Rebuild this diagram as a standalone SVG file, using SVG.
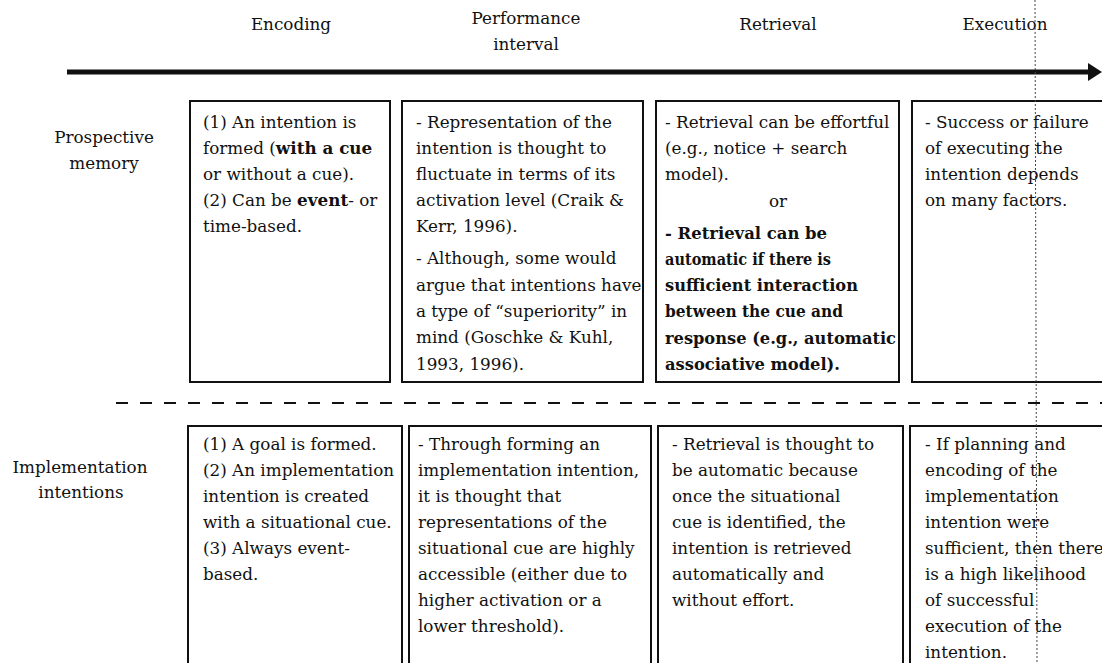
<svg xmlns="http://www.w3.org/2000/svg" width="1102" height="663" viewBox="0 0 1102 663">
<style>
.t{font-family:"DejaVu Serif","Liberation Serif",serif;font-size:16.8px;fill:#111}
.b{font-weight:bold}
.c{text-anchor:middle}
.box{fill:none;stroke:#111;stroke-width:2}
</style>
<defs>
<marker id="ah" markerUnits="userSpaceOnUse" markerWidth="15" markerHeight="18" refX="1" refY="9" orient="auto">
<polygon points="0,0 14,9 0,18" fill="#111"/>
</marker>
</defs>
<rect width="1102" height="663" fill="#fff"/>

<g id="headers" class="t c">
<text x="291" y="30">Encoding</text>
<text x="526" y="24">Performance</text>
<text x="526" y="50">interval</text>
<text x="778" y="30">Retrieval</text>
<text x="1005" y="30">Execution</text>
</g>

<g id="row-labels" class="t c">
<text x="104" y="143">Prospective</text>
<text x="104" y="169">memory</text>
<text x="80" y="473">Implementation</text>
<text x="81" y="498">intentions</text>
</g>

<g id="connectors">
<line x1="67" y1="72" x2="1089" y2="72" stroke="#111" stroke-width="5" marker-end="url(#ah)"/>
<line x1="116" y1="403" x2="1102" y2="403" stroke="#111" stroke-width="2" stroke-dasharray="12 12"/>
</g>

<g id="pm-encoding">
<rect class="box" x="190" y="101" width="200" height="281"/>
<text class="t" x="203" y="128">(1) An intention is</text>
<text class="t" x="203" y="154">formed (<tspan class="b">with a cue</tspan></text>
<text class="t" x="203" y="180">or without a cue).</text>
<text class="t" x="203" y="206">(2) Can be <tspan class="b">event</tspan>- or</text>
<text class="t" x="203" y="232">time-based.</text>
</g>

<g id="pm-interval">
<rect class="box" x="402" y="101" width="241" height="281"/>
<text class="t" x="416" y="128">- Representation of the</text>
<text class="t" x="416" y="154">intention is thought to</text>
<text class="t" x="416" y="180">fluctuate in terms of its</text>
<text class="t" x="416" y="206">activation level (Craik &amp;</text>
<text class="t" x="416" y="232">Kerr, 1996).</text>
<text class="t" x="416" y="264">- Although, some would</text>
<text class="t" x="416" y="291">argue that intentions have</text>
<text class="t" x="416" y="317">a type of “superiority” in</text>
<text class="t" x="416" y="343">mind (Goschke &amp; Kuhl,</text>
<text class="t" x="416" y="370">1993, 1996).</text>
</g>

<g id="pm-retrieval">
<rect class="box" x="656" y="101" width="243" height="281"/>
<text class="t" x="665" y="128">- Retrieval can be effortful</text>
<text class="t" x="665" y="154">(e.g., notice + search</text>
<text class="t" x="665" y="180">model).</text>
<text class="t c" x="778" y="207">or</text>
<text class="t b" x="665" y="238.5" textLength="162" lengthAdjust="spacingAndGlyphs">- Retrieval can be</text>
<text class="t b" x="665" y="264.8" textLength="166" lengthAdjust="spacingAndGlyphs">automatic if there is</text>
<text class="t b" x="665" y="291.1" textLength="193" lengthAdjust="spacingAndGlyphs">sufficient interaction</text>
<text class="t b" x="665" y="317.4" textLength="178" lengthAdjust="spacingAndGlyphs">between the cue and</text>
<text class="t b" x="665" y="343.7" textLength="231" lengthAdjust="spacingAndGlyphs">response (e.g., automatic</text>
<text class="t b" x="665" y="370" textLength="175" lengthAdjust="spacingAndGlyphs">associative model).</text>
</g>

<g id="pm-execution">
<rect class="box" x="912" y="101" width="200" height="281"/>
<text class="t" x="925" y="128">- Success or failure</text>
<text class="t" x="925" y="154">of executing the</text>
<text class="t" x="925" y="180">intention depends</text>
<text class="t" x="925" y="206">on many factors.</text>
</g>

<g id="ii-encoding">
<rect class="box" x="188" y="426" width="214" height="250"/>
<text class="t" x="203" y="450">(1) A goal is formed.</text>
<text class="t" x="203" y="476">(2) An implementation</text>
<text class="t" x="203" y="502">intention is created</text>
<text class="t" x="203" y="528">with a situational cue.</text>
<text class="t" x="203" y="554">(3) Always event-</text>
<text class="t" x="203" y="580">based.</text>
</g>

<g id="ii-interval">
<rect class="box" x="409" y="426" width="242" height="250"/>
<text class="t" x="418" y="450">- Through forming an</text>
<text class="t" x="418" y="476">implementation intention,</text>
<text class="t" x="418" y="502">it is thought that</text>
<text class="t" x="418" y="528">representations of the</text>
<text class="t" x="418" y="554">situational cue are highly</text>
<text class="t" x="418" y="580">accessible (either due to</text>
<text class="t" x="418" y="606">higher activation or a</text>
<text class="t" x="418" y="632">lower threshold).</text>
</g>

<g id="ii-retrieval">
<rect class="box" x="658" y="426" width="245" height="250"/>
<text class="t" x="672" y="450">- Retrieval is thought to</text>
<text class="t" x="672" y="476">be automatic because</text>
<text class="t" x="672" y="502">once the situational</text>
<text class="t" x="672" y="528">cue is identified, the</text>
<text class="t" x="672" y="554">intention is retrieved</text>
<text class="t" x="672" y="580">automatically and</text>
<text class="t" x="672" y="606">without effort.</text>
</g>

<g id="ii-execution">
<rect class="box" x="910" y="426" width="200" height="250"/>
<text class="t" x="925" y="450">- If planning and</text>
<text class="t" x="925" y="476">encoding of the</text>
<text class="t" x="925" y="502">implementation</text>
<text class="t" x="925" y="528">intention were</text>
<text class="t" x="925" y="554">sufficient, then there</text>
<text class="t" x="925" y="580">is a high likelihood</text>
<text class="t" x="925" y="606">of successful</text>
<text class="t" x="925" y="632">execution of the</text>
<text class="t" x="925" y="658">intention.</text>
</g>

<line id="scan-fold" x1="1035" y1="0" x2="1037" y2="663" stroke="#444" stroke-width="1" stroke-dasharray="2 2"/>
</svg>
